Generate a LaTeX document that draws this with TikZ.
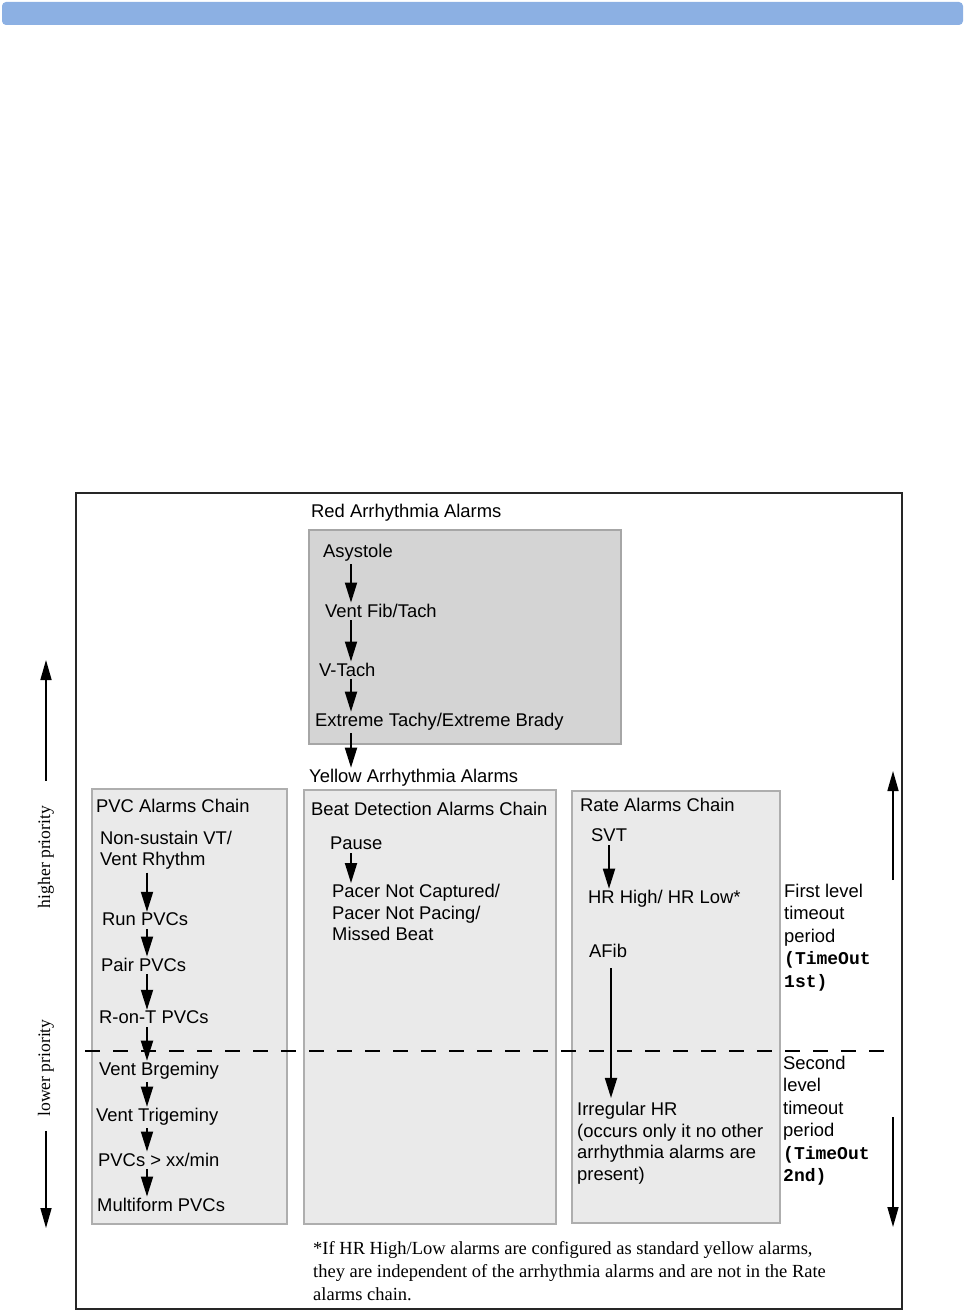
\documentclass[tikz,border=0pt]{standalone}
\usepackage{fontspec}
\setmainfont{Liberation Sans}
\newfontfamily\timesfont{Liberation Serif}
\newfontfamily\courfont{Liberation Mono}
\usetikzlibrary{arrows.meta}
\definecolor{barblue}{HTML}{8CB0E3}
\definecolor{redfill}{HTML}{D4D4D4}
\definecolor{redline}{HTML}{A6A6A6}
\definecolor{chainfill}{HTML}{EAEAEA}
\definecolor{chainline}{HTML}{AEAEAE}

\begin{document}
\begin{tikzpicture}
    [x=1pt,y=-1pt,
      lbl/.style={anchor=west,inner sep=1pt,yshift=-1.5pt,align=left,font=\fontsize{18.4}{21.5}\selectfont},
      side/.style={anchor=west,inner sep=0pt,align=left,font=\fontsize{18.4}{22.5}\selectfont},
      prio/.style={inner sep=0pt,rotate=90,font=\timesfont\fontsize{17.6}{20}\selectfont},
      chain/.style={line width=1.8pt,shorten <=2pt,shorten >=0pt,-{Triangle[length=20pt,width=12pt]}},
      level/.style={line width=1.6pt,-{Triangle[length=20pt,width=11pt]}},
      redbox/.style={draw=redline,fill=redfill,line width=2pt},
      chainbox/.style={draw=chainline,fill=chainfill,line width=2pt},
    ]
    \useasboundingbox (0,0) rectangle (965,1311);
    % header bar and frame
    \fill[barblue,rounded corners=4pt] (2,2) rectangle (963,25);
    \draw[line width=2.4pt,black!85] (76,493) rectangle (902,1309);
    % boxes
    \draw[redbox] (309,530) rectangle (621,744);
    \draw[chainbox] (92,789) rectangle (287,1224);
    \draw[chainbox] (304,790) rectangle (556,1224);
    \draw[chainbox] (572,791) rectangle (780,1223);
    \draw[line width=1.8pt,dash pattern=on 15pt off 13pt] (85,1051) -- (890,1051);
    % x positions of the chains
    \coordinate (redx) at (351,0);
    \coordinate (pvcx) at (147,0);
    \coordinate (beatx) at (351,0);
    \coordinate (svtx) at (609,0);
    \coordinate (afibx) at (611,0);

    % red alarms
    \node [lbl] (redtitle) at (310,511) {Red Arrhythmia Alarms};
    \node [lbl] (asys) at (322,551) {Asystole};
    \node [lbl] (vfib) at (324,609) {Vent Fib/Tach};
    \node [lbl] (vtach) at (318,668) {V-Tach};
    \node [lbl] (xtreme) at (314,720) {Extreme Tachy/Extreme Brady};
    \node [lbl] (yeltitle) at (308,776) {Yellow Arrhythmia Alarms};
    \draw[chain] (asys.south -| redx) -- (vfib.north -| redx);
    \draw[chain] (vfib.south -| redx) -- (vtach.north -| redx);
    \draw[chain] (vtach.south -| redx) -- (xtreme.north -| redx);
    \draw[chain] (xtreme.south -| redx) -- (yeltitle.north -| redx);

    % PVC alarms chain
    \node [lbl] (pvctitle) at (95,804) {PVC Alarms Chain};
    \node [lbl] (nsvt) at (99,848.5) {Non-sustain VT/\\Vent Rhythm};
    \node [lbl] (run) at (101,918) {Run PVCs};
    \node [lbl] (pair) at (100,963) {Pair PVCs};
    \node [lbl] (ront) at (98,1016) {R-on-T PVCs};
    \node [lbl] (bigem) at (98,1069) {Vent Brgeminy};
    \node [lbl] (trigem) at (95,1115) {Vent Trigeminy};
    \node [lbl] (pvcmin) at (97,1158) {PVCs > xx/min};
    \node [lbl] (multi) at (96,1203) {Multiform PVCs};
    \draw[chain] (nsvt.south -| pvcx) -- (run.north -| pvcx);
    \draw[chain] (run.south -| pvcx) -- (pair.north -| pvcx);
    \draw[chain] (pair.south -| pvcx) -- (ront.north -| pvcx);
    \draw[chain] (ront.south -| pvcx) -- (bigem.north -| pvcx);
    \draw[chain] (bigem.south -| pvcx) -- (trigem.north -| pvcx);
    \draw[chain] (trigem.south -| pvcx) -- (pvcmin.north -| pvcx);
    \draw[chain] (pvcmin.south -| pvcx) -- (multi.north -| pvcx);

    % beat detection alarms chain
    \node [lbl] (beattitle) at (310,807) {Beat Detection Alarms Chain};
    \node [lbl] (pause) at (329,842) {Pause};
    \node [lbl] (pacer) at (331,911) {Pacer Not Captured/\\Pacer Not Pacing/\\Missed Beat};
    \draw[chain] (pause.south -| beatx) -- (pacer.north -| beatx);

    % rate alarms chain
    \node [lbl] (ratetitle) at (579,803) {Rate Alarms Chain};
    \node [lbl] (svt) at (590,834) {SVT};
    \node [lbl] (hrhl) at (587,897) {HR High/ HR Low*};
    \node [lbl] (afib) at (588,949) {AFib};
    \node [lbl] (irreg) at (576,1141.5) {Irregular HR\\(occurs only it no other\\arrhythmia alarms are\\present)};
    \draw[chain] (svt.south -| svtx) -- (hrhl.north -| svtx);
    \draw[chain,shorten <=10pt,shorten >=3pt] (afib.south -| afibx) -- (irreg.north -| afibx);

    % timeout periods
    \node [side] (first) at (784,937.5) {First level\\timeout\\period\\{\courfont\bfseries\fontsize{18}{22.5}\selectfont(TimeOut}\\{\courfont\bfseries\fontsize{18}{22.5}\selectfont 1st)}};
    \node [side] (second) at (783,1120.5) {Second\\level\\timeout\\period\\{\courfont\bfseries\fontsize{18}{22.5}\selectfont(TimeOut}\\{\courfont\bfseries\fontsize{18}{22.5}\selectfont 2nd)}};
    \coordinate (upstart) at (893,880);
    \coordinate (upend) at (893,771);
    \coordinate (downstart) at (893,1117);
    \coordinate (downend) at (893,1227);
    \draw[level] (upstart) -- (upend);
    \draw[level] (downstart) -- (downend);

    % priority
    \node [prio] (higher) at (46,857) {higher priority};
    \node [prio] (lower) at (46,1068) {lower priority};
    \coordinate (hitop) at (46,660);
    \coordinate (lobot) at (46,1228);
    \draw[level,shorten <=25pt] (higher.east) -- (hitop);
    \draw[level,shorten <=14pt] (lower.west) -- (lobot);

    % footnote
    \node [anchor=west,inner sep=0pt,align=left,font=\timesfont\fontsize{18.5}{23}\selectfont] (note) at (313,1271)
      {*If HR High/Low alarms are configured as standard yellow alarms,\\they are independent of the arrhythmia alarms and are not in the Rate\\alarms chain.};
  \end{tikzpicture}
\end{document}
